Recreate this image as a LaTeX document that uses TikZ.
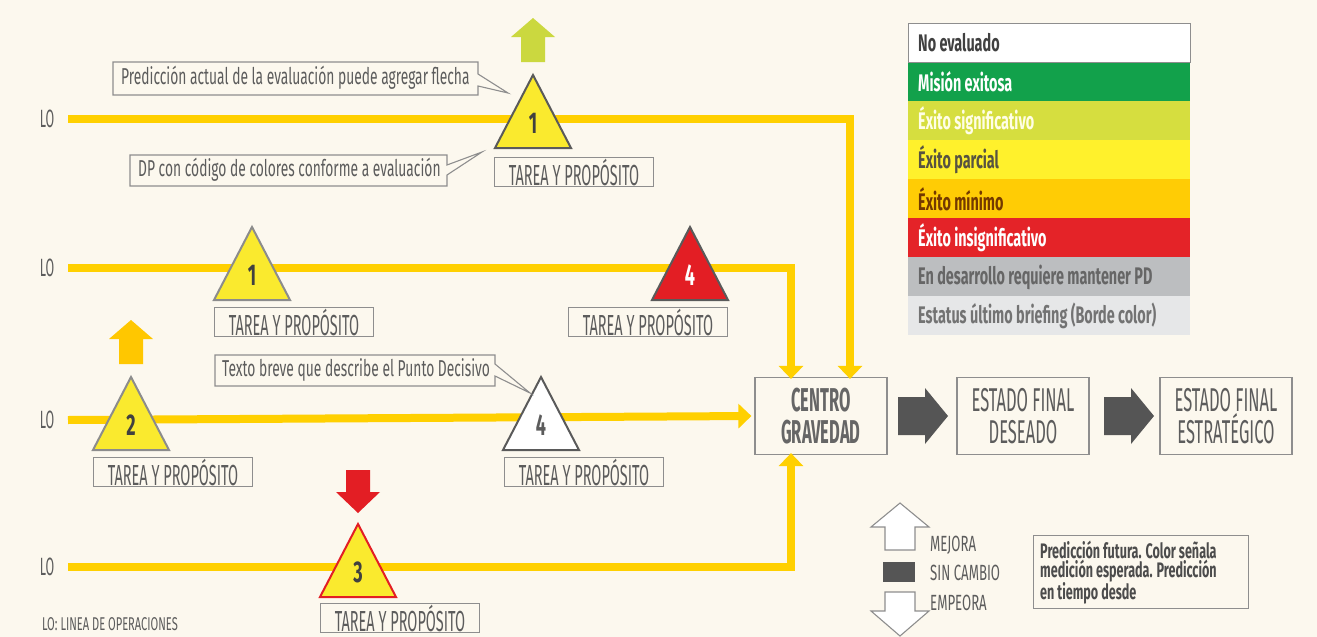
\documentclass[tikz,border=0pt]{standalone}
\usepackage{fontspec}
\newfontfamily\cf[FakeStretch=0.6]{Fira Sans}
\newfontfamily\cfn[FakeStretch=0.5]{Fira Sans}
\usetikzlibrary{arrows.meta}
\definecolor{bg}{HTML}{FCF8EE}
\definecolor{loy}{HTML}{FFD000}
\definecolor{triy}{HTML}{FAEA2E}
\definecolor{trib}{HTML}{8C8C8C}
\definecolor{trid}{HTML}{5A5A5A}
\definecolor{myred}{HTML}{E31E24}
\definecolor{lgreen}{HTML}{CBD83F}
\definecolor{orng}{HTML}{FFC700}
\definecolor{txt}{HTML}{5C5C5C}
\definecolor{bxb}{HTML}{8E8E8E}
\definecolor{darka}{HTML}{555555}
\definecolor{lg1}{HTML}{12A14B}
\definecolor{lg2}{HTML}{D6DE3F}
\definecolor{lg3}{HTML}{FFF12C}
\definecolor{lg4}{HTML}{FFCC05}
\definecolor{lg5}{HTML}{E42328}
\definecolor{lg6}{HTML}{BCBEC0}
\definecolor{lg7}{HTML}{E6E7E8}
\tikzset{
  lo/.style={draw=loy, line width=8pt},
  lotip/.style={-{Triangle[width=24pt,length=13pt]}},
  lolabel/.style={font=\cfn\fontsize{25}{25}\selectfont, text=txt, anchor=center, inner sep=0pt},
  tarea/.style={draw=bxb, line width=1.2pt, text=txt, font=\cfn\fontsize{29}{29}\selectfont, minimum width=159pt, minimum height=29pt, inner sep=0pt},
  num/.style={font=\cf\bfseries\fontsize{30}{30}\selectfont, inner sep=0pt},
  callout/.style={draw=bxb, line width=1.1pt, fill=bg},
  ctext/.style={font=\cf\fontsize{23}{23}\selectfont, text=txt, anchor=west, inner sep=0pt},
  bigbox/.style={draw=bxb, line width=1.2pt, minimum width=132pt, minimum height=77pt, align=center, text=txt, font=\cfn\fontsize{33}{32}\selectfont, inner sep=0pt},
  leg/.style={font=\cf\bfseries\fontsize{24}{24}\selectfont, anchor=west, inner sep=0pt},
  smalltxt/.style={font=\cf\fontsize{22}{22}\selectfont, text=txt, anchor=west, inner sep=0pt}
}
\newcommand{\mytri}[7]{% name, cx, basey, fill, draw, numcolor, num
  \filldraw[fill=#4, draw=#5, line width=2pt, line join=miter] (#2-38,#3) -- (#2,#3-73) -- (#2+38,#3) -- cycle;
  \node[num, text=#6] (#1) at (#2,#3-25) {#7};
}
\begin{document}
\begin{tikzpicture}[x=1pt,y=-1pt]
\fill[bg] (0,0) rectangle (1317,637);
\useasboundingbox (0,0) rectangle (1317,637);

% main boxes
\node[bigbox, font=\cfn\bfseries\fontsize{33}{32}\selectfont, text=darka!90] (cg) at (821,416) {CENTRO\\GRAVEDAD};
\node[bigbox] (efd) at (1023,416) {ESTADO FINAL\\DESEADO};
\node[bigbox] (efe) at (1226,416) {ESTADO FINAL\\ESTRATÉGICO};

% dark block arrows
\fill[darka] (898,397) -- (925,397) -- (925,388) -- (948,416) -- (925,444) -- (925,435) -- (898,435) -- cycle;
\fill[darka] (1104,397) -- (1131,397) -- (1131,388) -- (1154,416) -- (1131,444) -- (1131,435) -- (1104,435) -- cycle;

% LO labels and start coordinates
\node[lolabel] (lbl1) at (47,119) {LO};
\node[lolabel] (lbl2) at (47,268) {LO};
\node[lolabel] (lbl3) at (47,420) {LO};
\node[lolabel] (lbl4) at (47,567) {LO};
\coordinate (s1) at (68,119);
\coordinate (s2) at (68,268);
\coordinate (s3) at (68,420);
\coordinate (s4) at (68,567);

% lines of operation
\draw[lo, lotip] (s1) -| ([xshift=29pt,yshift=-2pt]cg.north);
\draw[lo, lotip] (s2) -| ([xshift=-30pt,yshift=-2pt]cg.north);
\draw[lo, lotip] (s3) -- ([xshift=-3pt]cg.west);
\draw[lo, lotip] (s4) -| ([xshift=-30pt,yshift=2pt]cg.south);

% prediction arrows
\fill[lgreen] (533,18) -- (555,37) -- (545,37) -- (545,62) -- (521,62) -- (521,37) -- (511,37) -- cycle;
\fill[orng] (131,320) -- (153,339) -- (143,339) -- (143,364) -- (119,364) -- (119,339) -- (109,339) -- cycle;
\fill[myred] (346,470) -- (370,470) -- (370,492) -- (380,492) -- (358,513) -- (336,492) -- (346,492) -- cycle;

% triangles
\mytri{n1}{533}{148}{triy}{trid}{black!75}{1}
\mytri{n2}{252}{300}{triy}{trib}{black!75}{1}
\mytri{n3}{690}{300}{myred}{trid}{white}{4}
\mytri{n4}{131}{450}{triy}{trib}{black!75}{2}
\mytri{n5}{541}{450}{white}{trid}{txt}{4}
\mytri{n6}{358}{597}{triy}{myred}{black!75}{3}

% task labels
\node[tarea] (t1) at (574,172) {TAREA Y PROPÓSITO};
\node[tarea] (t2) at (294,322) {TAREA Y PROPÓSITO};
\node[tarea] (t3) at (648,322) {TAREA Y PROPÓSITO};
\node[tarea] (t4) at (173,472) {TAREA Y PROPÓSITO};
\node[tarea] (t5) at (584,472) {TAREA Y PROPÓSITO};
\node[tarea] (t6) at (400,618) {TAREA Y PROPÓSITO};

% callouts
\draw[callout] (478,74) -- (478,62) -- (113,62) -- (113,95) -- (478,95) -- (478,86) -- (508,93) -- cycle;
\node[ctext] (c1) at (121,78) {Predicción actual de la evaluación puede agregar flecha};
\draw[callout] (447,175) -- (447,186) -- (130,186) -- (130,155) -- (447,155) -- (447,165) -- (482,152) -- cycle;
\node[ctext] (c2) at (138,170) {DP con código de colores conforme a evaluación};
\draw[callout] (495,364) -- (495,355) -- (215,355) -- (215,386) -- (495,386) -- (495,376) -- (530,393) -- cycle;
\node[ctext] (c3) at (222,370) {Texto breve que describe el Punto Decisivo};

\node[font=\cf\fontsize{18.5}{18.5}\selectfont, text=txt, anchor=west, inner sep=0pt] (foot) at (42,624) {LO: LINEA DE OPERACIONES};

% legend
\fill[white] (908,23) rectangle (1190,62);
\fill[lg1] (908,62) rectangle (1190,101);
\fill[lg2] (908,101) rectangle (1190,140);
\fill[lg3] (908,140) rectangle (1190,179);
\fill[lg4] (908,179) rectangle (1190,218);
\fill[lg5] (908,218) rectangle (1190,257);
\fill[lg6] (908,257) rectangle (1190,296);
\fill[lg7] (908,296) rectangle (1190,335);
\draw[bxb, line width=1pt] (908,23) rectangle (1190,62);
\node[leg, text=black!75] (g0) at (918,43) {No evaluado};
\node[leg, text=white] (g1) at (918,82) {Misión exitosa};
\node[leg, text=white!90!yellow] (g2) at (918,121) {Éxito significativo};
\node[leg, text=black!60!yellow!60!black] (g3) at (918,160) {Éxito parcial};
\node[leg, text=black!55!orange] (g4) at (918,199) {Éxito mínimo};
\node[leg, text=white] (g5) at (918,238) {Éxito insignificativo};
\node[leg, text=black!60] (g6) at (918,277) {En desarrollo requiere mantener PD};
\node[leg, text=black!55] (g7) at (918,316) {Estatus último briefing (Borde color)};

% trend legend
\filldraw[fill=white, draw=bxb, line width=1.1pt] (900,503) -- (929,527) -- (915,527) -- (915,550) -- (885,550) -- (885,527) -- (871,527) -- cycle;
\fill[darka] (883,562) rectangle (915,582);
\filldraw[fill=white, draw=bxb, line width=1.1pt] (885,592) -- (915,592) -- (915,611) -- (929,611) -- (900,636) -- (871,611) -- (885,611) -- cycle;
\node[smalltxt] (m1) at (930,545) {MEJORA};
\node[smalltxt] (m2) at (930,573) {SIN CAMBIO};
\node[smalltxt] (m3) at (930,603) {EMPEORA};

\node[draw=bxb, line width=1.1pt, minimum width=215pt, minimum height=73pt, anchor=north west, inner sep=0pt] (pf) at (1033,535) {};
\node[font=\cf\bfseries\fontsize{21}{18.5}\selectfont, text=black!70, align=left, anchor=north west, inner sep=0pt] (pft) at (1040,541) {Predicción futura. Color señala\\medición esperada. Predicción\\en tiempo desde};
\end{tikzpicture}
\end{document}
